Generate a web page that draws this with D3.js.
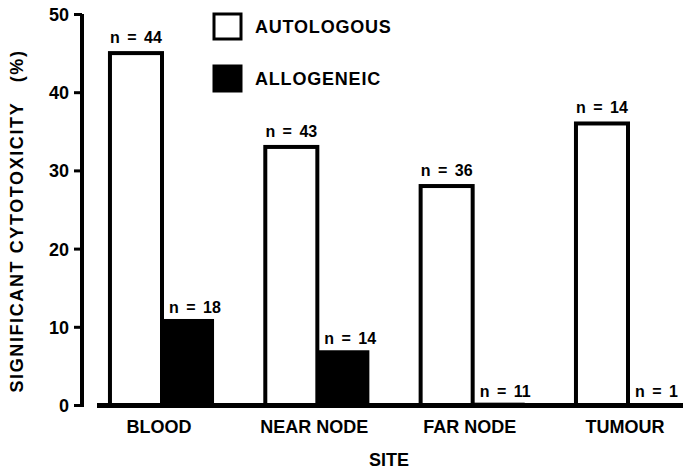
<!DOCTYPE html>
<html>
<head>
<meta charset="utf-8">
<script src="https://cdn.jsdelivr.net/npm/d3@7"></script>
<style>
    body { margin: 0; background: #fff; }
    svg text { font-family: "Liberation Sans", Arial, Helvetica, sans-serif; font-weight: bold; fill: #000; }
</style>
</head>
<body>
<svg id="chart" width="683" height="471"></svg>
<script>
/* global d3 */

const sites = ['BLOOD', 'NEAR NODE', 'FAR NODE', 'TUMOUR'];
const series = ['AUTOLOGOUS', 'ALLOGENEIC'];
const autologous = [45, 33, 28, 36];
const allogeneic = [11, 7, 0.3, 0.2];
const n_autologous = [44, 43, 36, 14];
const n_allogeneic = [18, 14, 11, 1];
const y_ticks = [0, 10, 20, 30, 40, 50];

const svg = d3.select('#chart');

let x = d3.scaleBand().domain(sites).range([82, 708]).paddingInner(0.33).paddingOuter(0.18);
let x_inner = d3.scaleBand().domain(series).range([0, x.bandwidth()]);
let y = d3.scaleLinear().domain([0, 50]).range([405, 14]);

// y axis
let y_axis = svg.append('g')
    .attr('transform', 'translate(82,0)')
    .call(d3.axisLeft(y).tickValues(y_ticks).tickSize(8).tickPadding(5));
y_axis.select('.domain').attr('stroke', '#000').attr('stroke-width', 4)
    .attr('d', 'M0,' + y(50) + 'V' + (y(0) + 2));
y_axis.selectAll('.tick line').attr('stroke', '#000').attr('stroke-width', 3);
y_axis.selectAll('.tick text').style('font-size', '18px').attr('dy', '0.36em');

svg.append('text')
    .attr('transform', 'translate(23,' + 221 + ') rotate(-90)')
    .attr('text-anchor', 'middle')
    .style('font-size', '18px')
    .style('letter-spacing', '1.6px')
    .attr('xml:space', 'preserve')
    .text('SIGNIFICANT CYTOTOXICITY   (%)');

// bars
const rows = sites.map((s, i) => ({
    site: s,
    values: [
        {key: series[0], v: autologous[i], n: n_autologous[i]},
        {key: series[1], v: allogeneic[i], n: n_allogeneic[i]}
    ]
}));

let groups = svg.selectAll('.site').data(rows).enter().append('g')
    .attr('class', 'site')
    .attr('transform', d => 'translate(' + x(d.site) + ',0)');

groups.selectAll('rect').data(d => d.values).enter().append('rect')
    .attr('x', d => x_inner(d.key))
    .attr('y', d => y(d.v))
    .attr('width', x_inner.bandwidth())
    .attr('height', d => y(0) - y(d.v))
    .attr('fill', d => d.key === 'AUTOLOGOUS' ? '#fff' : '#000')
    .attr('stroke', '#000')
    .attr('stroke-width', d => d.key === 'AUTOLOGOUS' ? 4 : 0);

// autologous labels are centred, allogeneic ones sit from the bar's left edge
groups.selectAll('.n').data(d => d.values).enter().append('text')
    .attr('class', 'n')
    .attr('x', d => d.key === 'AUTOLOGOUS'
        ? x_inner(d.key) + x_inner.bandwidth() / 2
        : x_inner(d.key) + 7)
    .attr('y', d => y(d.v) - (d.key === 'AUTOLOGOUS' ? 10 : 6))
    .attr('text-anchor', d => d.key === 'AUTOLOGOUS' ? 'middle' : 'start')
    .style('font-size', '16px')
    .style('word-spacing', '3px')
    .text(d => 'n = ' + d.n);

// baseline
svg.append('line')
    .attr('x1', 97).attr('x2', 683)
    .attr('y1', y(0) + 0.5).attr('y2', y(0) + 0.5)
    .attr('stroke', '#000').attr('stroke-width', 5);

// category labels
svg.selectAll('.cat').data(sites).enter().append('text')
    .attr('class', 'cat')
    .attr('x', d => x(d) + x.bandwidth() / 2 - 3)
    .attr('y', 433)
    .attr('text-anchor', 'middle')
    .style('font-size', '18px')
    .text(d => d);

svg.append('text')
    .attr('x', 389).attr('y', 466)
    .attr('text-anchor', 'middle')
    .style('font-size', '18px')
    .text('SITE');

// legend
let legend = svg.selectAll('.legend').data(series).enter().append('g')
    .attr('class', 'legend')
    .attr('transform', (d, i) => 'translate(214,' + (14 + i * 52) + ')');

legend.append('rect')
    .attr('width', 27).attr('height', 25)
    .attr('fill', (d, i) => i === 0 ? '#fff' : '#000')
    .attr('stroke', '#000').attr('stroke-width', 3);

legend.append('text')
    .attr('x', 41).attr('y', 19)
    .style('font-size', '18px')
    .style('letter-spacing', '0.8px')
    .text(d => d);
</script>
</body>
</html>
